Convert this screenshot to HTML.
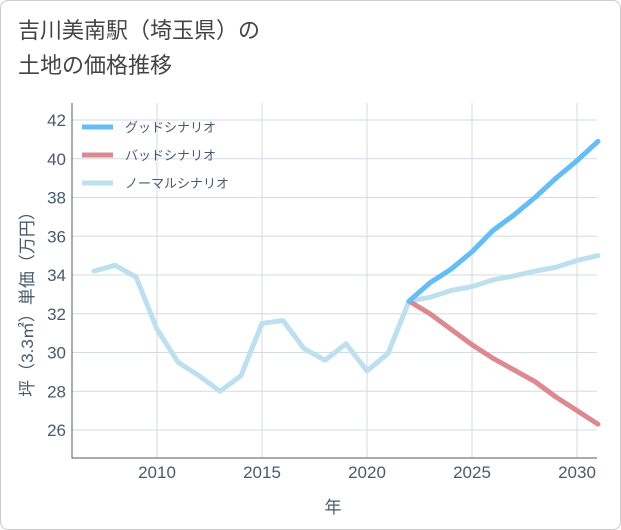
<!DOCTYPE html>
<html><head><meta charset="utf-8">
<style>
body{margin:0;background:#fff;}
.card{position:absolute;left:0;top:0;width:619px;height:528px;border:1px solid #ccc;border-radius:8px;background:#fff;}
.t{font-family:"Liberation Sans","Noto Sans CJK JP",sans-serif;}
</style></head><body>
<div class="card"></div>
<div class="t" style="position:absolute;left:18px;top:13px;font-size:22px;line-height:35px;color:#444;">吉川美南駅（埼玉県）の<br>土地の価格推移</div>
<svg id="c" width="621" height="530" style="position:absolute;left:0;top:0"></svg>
<script>
const years=[2007,2008,2009,2010,2011,2012,2013,2014,2015,2016,2017,2018,2019,2020,2021,2022,2023,2024,2025,2026,2027,2028,2029,2030,2031];
const normal=[34.2,34.5,33.9,31.2,29.5,28.8,28.0,28.8,31.5,31.65,30.2,29.6,30.45,29.05,29.95,32.65,32.85,33.2,33.4,33.75,33.95,34.2,34.4,34.75,35.0];
const fYears=[2022,2023,2024,2025,2026,2027,2028,2029,2030,2031];
const good=[32.65,33.6,34.3,35.2,36.3,37.1,38.0,39.0,39.9,40.9];
const bad=[32.65,32.0,31.2,30.4,29.7,29.1,28.5,27.7,27.0,26.3];
const xTicks=[2010,2015,2020,2025,2030];
const yTicks=[26,28,30,32,34,36,38,40,42];
const L=72,R=597,T=103,B=458;
const x=v=>157+(v-2010)*21;
const y=v=>430-(v-26)*19.375;
const svg=document.getElementById('c');const NS='http://www.w3.org/2000/svg';
function mk(t,a,p){const e=document.createElementNS(NS,t);for(const k in a)e.setAttribute(k,a[k]);(p||svg).appendChild(e);return e;}
yTicks.forEach(v=>{const g=mk('line',{x1:L,x2:R,y1:y(v),y2:y(v),stroke:'#d3dbe4','stroke-width':1});

const t=mk('text',{x:L-6,y:y(v)+6,'text-anchor':'end','font-size':17,fill:'#4a5a6a',class:'t'});t.textContent=v;
});
xTicks.forEach(v=>{const g=mk('line',{x1:x(v),x2:x(v),y1:T,y2:B,stroke:'#d3dbe4','stroke-width':1});

const t=mk('text',{x:x(v),y:B+20,'text-anchor':'middle','font-size':17,fill:'#4a5a6a',class:'t'});t.textContent=v;
});
const ax=mk('path',{d:`M${L} ${T}V${B}H${R}`,stroke:'#556',fill:'none','stroke-width':1});

function line(xs,vs,col,name){const d=vs.map((v,i)=>(i?'L':'M')+x(xs[i])+' '+y(v)).join('');
const p=mk('path',{d,stroke:col,fill:'none','stroke-width':5,'stroke-linejoin':'round','stroke-linecap':'round'});
}
line(years,normal,'#bde0ee','normal-scenario-line');
line(fYears,bad,'#dc8a90','bad-scenario-line');
line(fYears,good,'#64bdf4','good-scenario-line');
const leg=[['グッドシナリオ','#64bdf4'],['バッドシナリオ','#dc8a90'],['ノーマルシナリオ','#bde0ee']];
leg.forEach((l,i)=>{const yy=127+i*28;
const s=mk('line',{x1:82,x2:113,y1:yy,y2:yy,stroke:l[1],'stroke-width':5});

const t=mk('text',{x:125,y:yy+5,'font-size':13,fill:'#4a5a6a',class:'t'});t.textContent=l[0];
});
const xt=mk('text',{x:333,y:513,'text-anchor':'middle','font-size':17,fill:'#4a5a6a',class:'t'});xt.textContent='年';

const yt=mk('text',{x:0,y:0,'text-anchor':'middle','font-size':17,fill:'#4a5a6a',class:'t',transform:'translate(33,300) rotate(-90)'});yt.textContent='坪（3.3㎡）単価（万円）';

</script>
</body></html>
